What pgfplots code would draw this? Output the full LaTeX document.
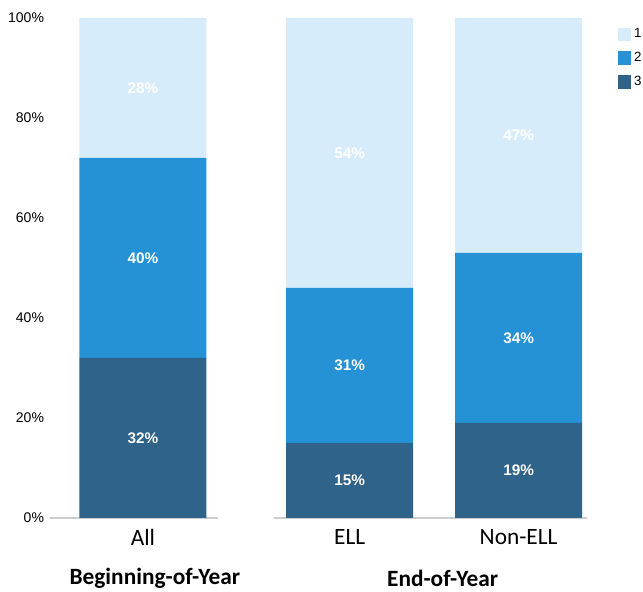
\documentclass[border=0pt]{standalone}
\usepackage{pgfplots}
\pgfplotsset{compat=1.18}
\usepackage{fontspec}
\setmainfont{Liberation Sans}
\newfontfamily\calibri{Carlito}

\definecolor{lev1}{RGB}{214,236,250}
\definecolor{lev2}{RGB}{36,146,212}
\definecolor{lev3}{RGB}{47,99,138}
\definecolor{baseln}{RGB}{205,205,205}

\pgfplotsset{
    frame/.style={
        at={(37.5pt,55.5pt)}, anchor=south west,
        scale only axis,
        width=402.75pt, height=375pt,
        xmin=-0.55, xmax=2.63,
        ymin=0, ymax=100,
        clip=false,
    }
}

\begin{document}
\begin{tikzpicture}
% 1px of the reference = 0.75pt
\path[use as bounding box] (0,0) rectangle (482.25pt,444pt);
\begin{axis}[
    frame,
    ybar stacked,
    bar width=95.25pt,
    xtick={0,1.225,2.225},
    xticklabels={All, ELL, Non-ELL},
    xticklabel style={font=\calibri\fontsize{17.5}{20}\selectfont, yshift=-5pt},
    ytick={0,20,40,60,80,100},
    yticklabels={0\%,20\%,40\%,60\%,80\%,100\%},
    yticklabel style={font=\fontsize{10.5}{12}\selectfont, xshift=-1pt},
    axis line style={draw=none},
    major tick length=0pt,
    reverse legend,
    legend style={draw=none, fill=none, at={(rel axis cs:1.05,0.99)}, anchor=north west,
        font=\fontsize{10}{12}\selectfont, row sep=5.5pt,
        /tikz/every even column/.append style={column sep=2pt}},
    legend image code/.code={\fill[#1] (0pt,-5pt) rectangle (10pt,5pt);},
]
\addplot[fill=lev3, draw=none] coordinates {(0,32) (1.225,15) (2.225,19)};
\addplot[fill=lev2, draw=none] coordinates {(0,40) (1.225,31) (2.225,34)};
\addplot[fill=lev1, draw=none] coordinates {(0,28) (1.225,54) (2.225,47)};
\legend{3,2,1}

\draw[baseln, line width=0.8pt] (axis cs:-0.55,0) -- (axis cs:0.444,0);
\draw[baseln, line width=0.8pt] (axis cs:0.775,0) -- (axis cs:2.63,0);

\node[font=\calibri\bfseries\fontsize{17.5}{20}\selectfont] at (axis cs:0.071,0) [yshift=-45pt] {Beginning-of-Year};
\node[font=\calibri\bfseries\fontsize{17.5}{20}\selectfont] at (axis cs:1.775,0) [yshift=-45pt] {End-of-Year};
\end{axis}

% value labels, centred in each segment
\begin{axis}[frame, hide axis]
\addplot[only marks, mark=none, point meta=explicit symbolic,
    nodes near coords,
    every node near coord/.style={anchor=center, text=white,
        font=\bfseries\fontsize{11.5}{13}\selectfont}]
    coordinates {
    (0,16) [32\%] (0,52) [40\%] (0,86) [28\%]
    (1.225,7.5) [15\%] (1.225,30.5) [31\%] (1.225,73) [54\%]
    (2.225,9.5) [19\%] (2.225,36) [34\%] (2.225,76.5) [47\%]
    };
\end{axis}
\end{tikzpicture}
\end{document}
